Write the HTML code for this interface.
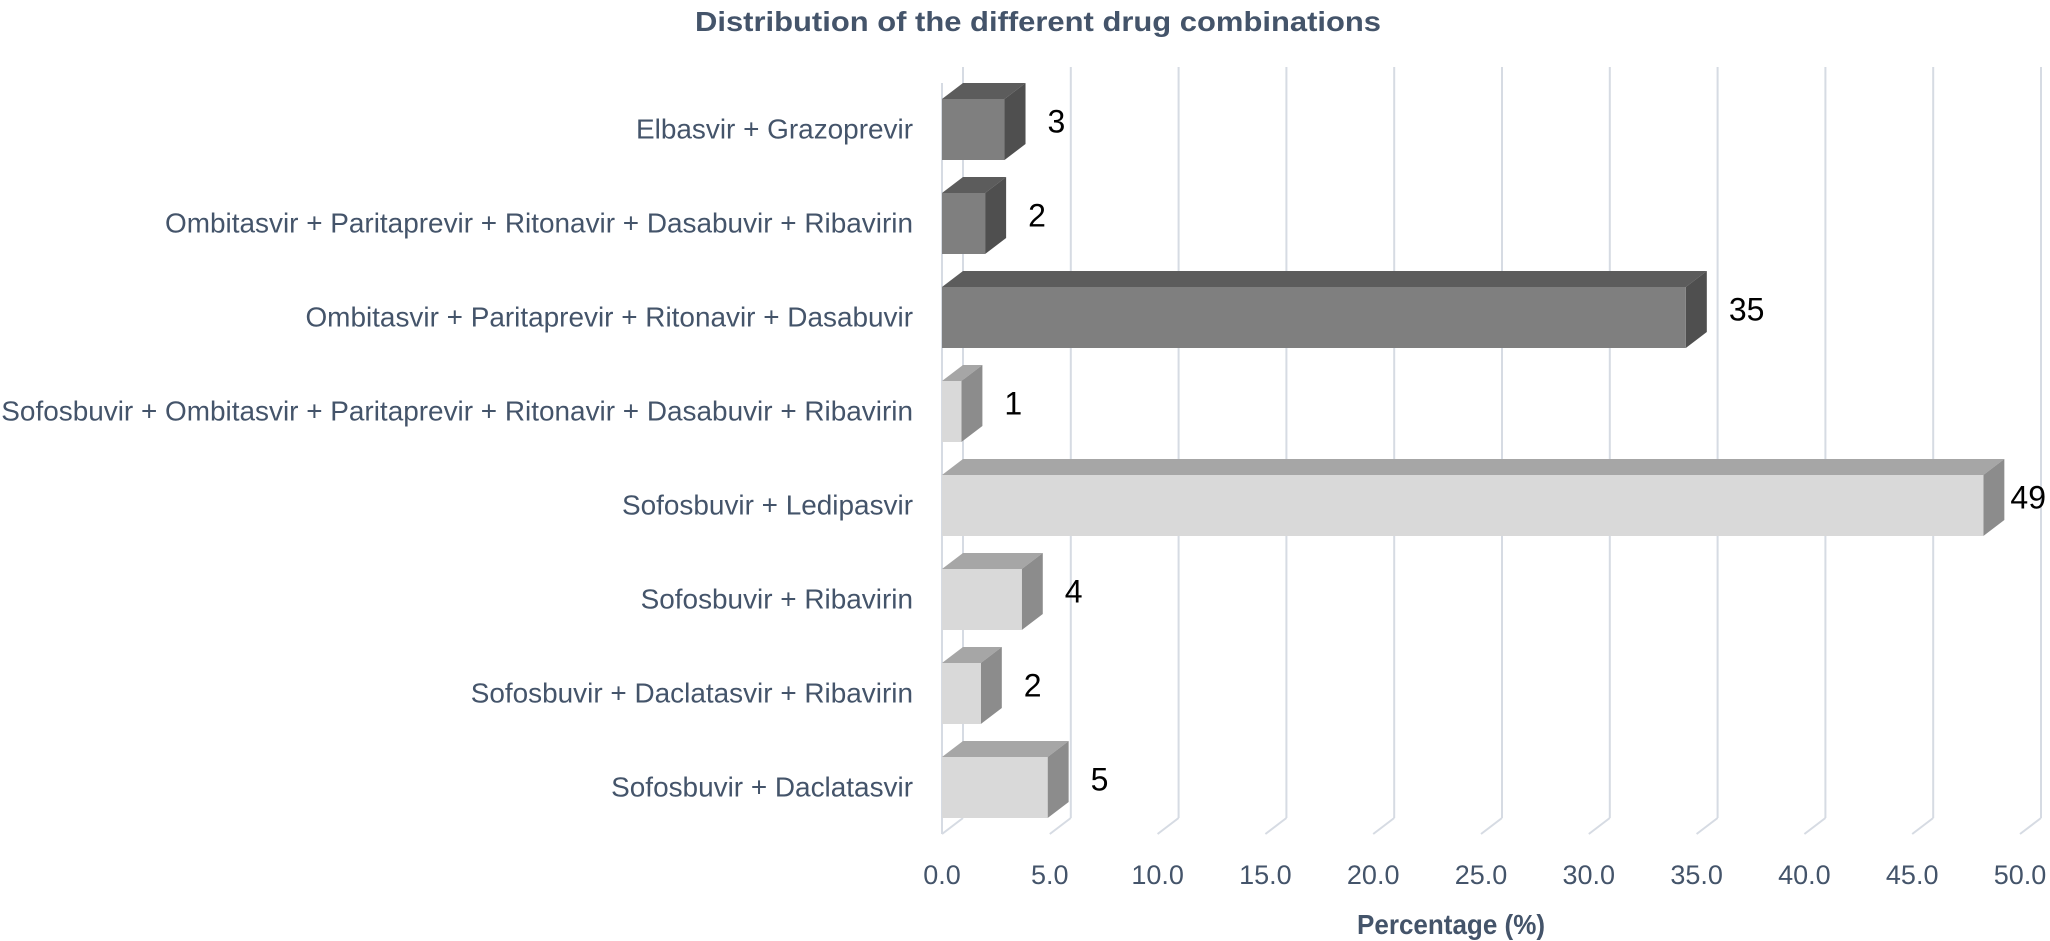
<!DOCTYPE html>
<html><head><meta charset="utf-8">
<style>
html,body{margin:0;padding:0;background:#fff;}
svg{display:block;}
text{font-family:"Liberation Sans",sans-serif;}
</style></head>
<body>
<svg id="chart" width="2050" height="941" viewBox="0 0 2050 941" xmlns="http://www.w3.org/2000/svg">
<text x="1038" y="31" text-anchor="middle" font-size="28" font-weight="bold" fill="#44546A" textLength="686" lengthAdjust="spacingAndGlyphs">Distribution of the different drug combinations</text>
<g id="grid"></g>
<g id="bars"></g>
<g id="cats"></g>
<g id="ticks"></g>
<text x="1451" y="934" text-anchor="middle" font-size="28" font-weight="bold" fill="#44546A" textLength="188" lengthAdjust="spacingAndGlyphs">Percentage (%)</text>
</svg>
<script>
const categories = ["Elbasvir + Grazoprevir","Ombitasvir + Paritaprevir + Ritonavir + Dasabuvir + Ribavirin","Ombitasvir + Paritaprevir + Ritonavir + Dasabuvir","Sofosbuvir + Ombitasvir + Paritaprevir + Ritonavir + Dasabuvir + Ribavirin","Sofosbuvir + Ledipasvir","Sofosbuvir + Ribavirin","Sofosbuvir + Daclatasvir + Ribavirin","Sofosbuvir + Daclatasvir"];
const values = [2.9, 2.0, 34.5, 0.9, 48.3, 3.7, 1.8, 4.9];
const valueLabels = ["3","2","35","1","49","4","2","5"];
const groups = ["dark","dark","dark","light","light","light","light","light"];
const ticks = [0,5,10,15,20,25,30,35,40,45,50];

const NS="http://www.w3.org/2000/svg";
const X0=942, PX=21.56, DX=21, DY=-16, TOP0=99, STEP=94, BH=61;
const GRID_TOP=67, GRID_BOT=818;
function xs(v){return X0+v*PX;}
function yTop(i){return TOP0+i*STEP;}
function mk(tag,attrs,parent){const e=document.createElementNS(NS,tag);for(const k in attrs)e.setAttribute(k,attrs[k]);parent.appendChild(e);return e;}
const grid=document.getElementById('grid'), bars=document.getElementById('bars'), cats=document.getElementById('cats'), tk=document.getElementById('ticks');
const colors={dark:{front:"#7f7f7f",top:"#5c5c5c",side:"#4f4f4f"},light:{front:"#d9d9d9",top:"#a6a6a6",side:"#8c8c8c"}};

let ax=mk('line',{x1:X0,y1:GRID_TOP-DY,x2:X0,y2:GRID_BOT-DY,stroke:"#d6dbe3","stroke-width":2},grid);


ticks.forEach(t=>{
  const bx=xs(t)+DX;
  const g=mk('line',{x1:bx,y1:GRID_TOP,x2:bx,y2:GRID_BOT,stroke:"#d6dbe3","stroke-width":2},grid);
  
  
  const d=mk('line',{x1:bx,y1:GRID_BOT,x2:xs(t),y2:GRID_BOT-DY,stroke:"#d6dbe3","stroke-width":2},grid);
  
  
  const l=mk('text',{x:xs(t),y:884,"text-anchor":"middle","font-size":"27",fill:"#44546A"},tk);
  l.textContent=t.toFixed(1);
  
  
});

categories.forEach((c,i)=>{
  const y=yTop(i), x1=xs(values[i]), col=colors[groups[i]];
  const g=mk('g',{},bars);
  
  
  mk('polygon',{points:`${X0},${y} ${X0+DX},${y+DY} ${x1+DX},${y+DY} ${x1},${y}`,fill:col.top},g);
  mk('polygon',{points:`${x1},${y} ${x1+DX},${y+DY} ${x1+DX},${y+BH+DY} ${x1},${y+BH}`,fill:col.side},g);
  mk('rect',{x:X0,y:y,width:x1-X0,height:BH,fill:col.front},g);
  const v=mk('text',{x:x1+DX+22,y:y+BH/2+3,"font-size":"32",fill:"#000"},bars);
  v.textContent=valueLabels[i];
  
  
  const w=v.getComputedTextLength();
  if(x1+DX+22+w>2046){v.setAttribute('x',(2046-w).toFixed(1));}
  const t=mk('text',{x:913,y:y+BH/2+9,"text-anchor":"end","font-size":"25",fill:"#44546A"},cats);
  t.textContent=c;
  
  
});
let maxW=0;cats.querySelectorAll('text').forEach(t=>{maxW=Math.max(maxW,t.getComputedTextLength());});
if(maxW>0){const f=25*912/maxW;cats.querySelectorAll('text').forEach(t=>t.setAttribute('font-size',f.toFixed(2)));}
</script>
</body></html>
